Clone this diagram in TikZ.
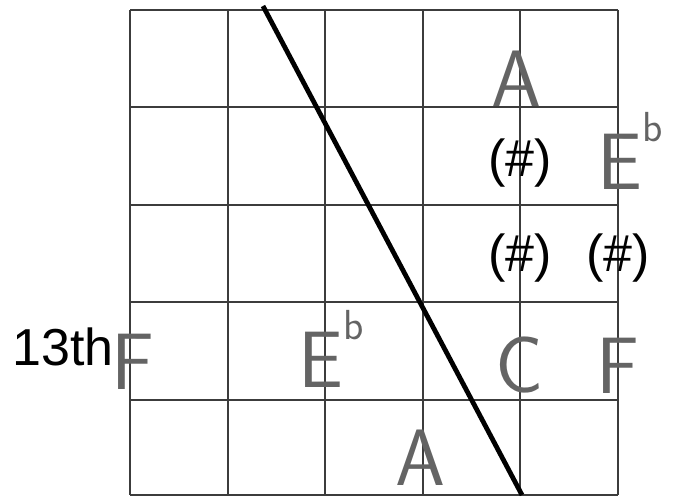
\documentclass[tikz,border=0pt]{standalone}
\usepackage{fontspec}
\setmainfont{Liberation Sans}
\usetikzlibrary{positioning}
\definecolor{PencilGray}{RGB}{100,100,100}
\definecolor{GridInk}{RGB}{60,60,60}
\newcommand{\flatb}{\raisebox{0.6em}{\fontsize{21}{21}\selectfont b}}

\begin{document}
\begin{tikzpicture}[x=0.5pt, y=-0.5pt,
    gridline/.style={draw=GridInk, line width=0.9pt},
    cutline/.style={draw=black, line width=2.4pt},
    hand/.style={text=PencilGray, font=\fontsize{40}{40}\sffamily, inner sep=0pt, anchor=base},
    sharp/.style={text=black, font=\fontsize{26}{26}\selectfont, inner sep=0pt},
]
\useasboundingbox (0,0) rectangle (676,497);

% grid of 5 x 5 cells
\foreach \x in {130,228,325,423,520,618}
    \draw[gridline] (\x,10) -- (\x,495);
\foreach \y in {10,107,205,302,400,495}
    \draw[gridline] (130,\y) -- (618,\y);

% the cut across the grid
\coordinate (cutTop) at (263,6);
\coordinate (cutBot) at (522,495);
\draw[cutline] (cutTop) -- (cutBot);

% pencil notes
\node[hand] (aTop) at (516,107) {A};
\node[hand, anchor=base west] (ebRight) at (597,190) {E\flatb};
\node[hand] (fLeft) at (133,390) {F};
\node[hand, anchor=base west] (ebMid) at (298,388) {E\flatb};
\node[hand] (cMid) at (520,393) {C};
\node[hand] (fRight) at (618,394) {F};
\node[hand] (aLow) at (420,486) {A};

% printed marks
\node[sharp] (shA) at (520,163) {(\#)};
\node[sharp] (shB) at (520,258) {(\#)};
\node[sharp] (shC) at (618,258) {(\#)};
\node[sharp, anchor=base east] (thirteen) at (114,366) {13th};
\end{tikzpicture}
\end{document}
